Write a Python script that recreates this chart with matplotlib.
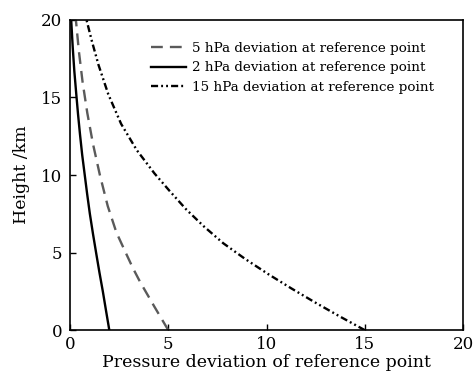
import numpy as np
import matplotlib.pyplot as plt

# height (km) and pressure deviation (hPa) for each reference-point deviation
h_5 = [0, 1.5, 3.1, 4.0, 4.95, 6.3, 8.0, 10.0, 12.0, 14.0, 16.0, 18.0, 20.0]
dp_5 = [5.0, 4.3, 3.57, 3.2, 2.85, 2.36, 1.92, 1.52, 1.17, 0.88, 0.64, 0.45, 0.3]

h_2 = [0, 1.2, 2.5, 3.7, 4.9, 6.2, 7.5, 8.8, 10.0, 11.3, 12.6, 13.9, 15.2, 16.7, 18.2, 20.0]
dp_2 = [2.0, 1.84, 1.67, 1.5, 1.34, 1.17, 1.01, 0.87, 0.75, 0.62, 0.51, 0.41, 0.32, 0.22, 0.14, 0.06]

h_15 = [0, 0.9, 1.8, 2.7, 3.6, 4.6, 5.6, 6.7, 7.8, 9.0, 10.1, 11.6, 13.3, 15.2, 17.1, 18.6, 20.0]
dp_15 = [15.0, 13.7, 12.45, 11.25, 10.1, 8.9, 7.8, 6.8, 5.9, 5.05, 4.3, 3.4, 2.6, 1.95, 1.45, 1.12, 0.84]

plt.rcParams["font.family"] = "DejaVu Serif"

fig = plt.figure(figsize=(4.73, 3.76), dpi=100)
ax = fig.add_axes([0.148, 0.122, 0.831, 0.825])

ax.plot(dp_5, h_5, color="#5a5a5a", lw=1.7, dashes=(5, 3),
        label="5 hPa deviation at reference point")
ax.plot(dp_2, h_2, color="black", lw=1.7,
        label="2 hPa deviation at reference point")
ax.plot(dp_15, h_15, color="black", lw=1.7, dashes=(3, 1.3, 0.8, 1.3, 0.8, 1.3),
        label="15 hPa deviation at reference point")

ax.set_xlim(0, 20)
ax.set_ylim(0, 20)
ax.set_xticks([0, 5, 10, 15, 20])
ax.set_yticks([0, 5, 10, 15, 20])
ax.tick_params(direction="in", length=4, width=1, labelsize=12)
ax.tick_params(axis="x", pad=4.5)
ax.tick_params(axis="y", pad=5.5)
for s in ax.spines.values():
    s.set_linewidth(1.2)

ax.set_xlabel("Pressure deviation of reference point", fontsize=12.5, labelpad=0.5)
ax.set_ylabel("Height /km", fontsize=12.5, labelpad=8)

ax.legend(loc="upper left", bbox_to_anchor=(0.205, 0.93), frameon=False,
          fontsize=9.7, handlelength=2.6, handletextpad=0.45, labelspacing=0.5,
          borderaxespad=0, borderpad=0)

fig.savefig("out.png", dpi=100)
